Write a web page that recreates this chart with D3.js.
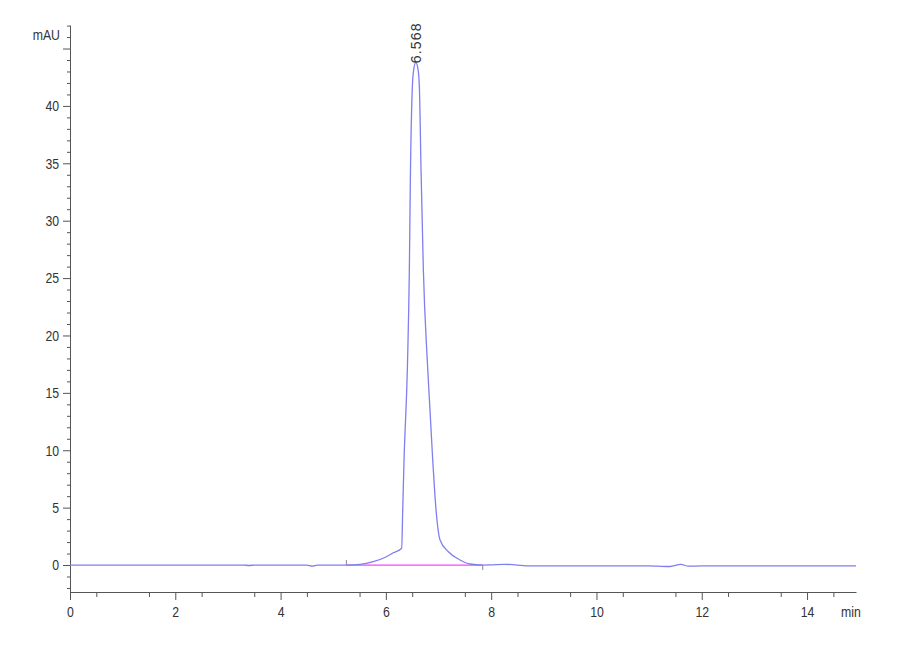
<!DOCTYPE html>
<html>
<head>
<meta charset="utf-8">
<script src="https://cdn.jsdelivr.net/npm/d3@7"></script>
<style>
    body { margin: 0; background: #fff; }
    .axis text, .label { font-family: "Liberation Sans", Arial, sans-serif; font-size: 15px; fill: #333; }
    .axis path, .axis line { stroke: #555; }
    /* the instrument font is a narrow one */
    .x-axis text { transform-box: fill-box; transform-origin: center; transform: scaleX(0.82); }
    .y-axis text, .label { transform-box: fill-box; transform-origin: right center; transform: scaleX(0.82); }
    .label.left { transform-origin: left center; }
</style>
</head>
<body>
<div id="chart"></div>
<script>
// chromatogram trace (retention time in min, signal in mAU)
const time = [0, 1, 2, 3, 3.3, 3.4, 3.5, 4.5, 4.6, 4.7, 5.0, 5.25, 5.51, 5.76, 6.0, 6.14, 6.3,
    6.32, 6.345, 6.41, 6.446, 6.465, 6.503, 6.53, 6.568, 6.61, 6.636, 6.668, 6.712, 6.791, 6.89,
    6.953, 7.029, 7.187, 7.409, 7.599, 7.84, 8.0, 8.25, 8.45, 8.74, 9, 10, 11, 11.15, 11.4,
    11.6, 11.75, 12, 13, 14, 14.93];
const signal = [0, 0, 0, 0, 0, -0.04, 0, 0, -0.09, 0, 0, 0, 0.06, 0.29, 0.7, 1.07, 1.46,
    4.79, 9.15, 17.4, 25.7, 33.55, 41.68, 43.2, 43.8, 43.2, 41.68, 34.4, 25.7, 17.4, 9.15,
    4.79, 2.18, 1.16, 0.44, 0.09, 0, 0.02, 0.06, 0.02, -0.08, -0.08, -0.08, -0.08, -0.1, -0.13,
    0.06, -0.1, -0.08, -0.08, -0.08, -0.08];

const peakTime = 6.568;
const peakHeight = 43.8;
const peakLabel = "6.568";
const baselineStart = 5.25;
const baselineEnd = 7.84;

const xMajor = [0, 2, 4, 6, 8, 10, 12, 14];
const yMajor = [0, 5, 10, 15, 20, 25, 30, 35, 40, 45];
const yLabels = ["0", "5", "10", "15", "20", "25", "30", "35", "40", ""];

const width = 900;
const height = 660;

const svg = d3.select("#chart")
    .append("svg")
    .attr("width", width)
    .attr("height", height);

const xScale = d3.scaleLinear()
    .domain([0, 14.93])
    .range([70, 856]);

const yScale = d3.scaleLinear()
    .domain([-2.35, 47.05])
    .range([592, 25]);

// minor ticks every 0.5 min / 1 mAU
const xMinor = d3.range(0.5, 14.93, 1);
const yMinor = d3.range(-2, 48, 1).filter(v => v % 5 !== 0);

svg.append("g")
    .attr("class", "axis")
    .attr("transform", "translate(0,592)")
    .call(d3.axisBottom(xScale).tickValues(xMinor).tickSize(5).tickFormat(""))
    .call(g => g.select(".domain").remove());

svg.append("g")
    .attr("class", "axis x-axis")
    .attr("transform", "translate(0,592)")
    .call(d3.axisBottom(xScale).tickValues(xMajor).tickSize(8).tickSizeOuter(0).tickPadding(6).tickFormat(d3.format("d")));

svg.append("g")
    .attr("class", "axis")
    .attr("transform", "translate(70,0)")
    .call(d3.axisLeft(yScale).tickValues(yMinor).tickSize(3).tickFormat(""))
    .call(g => g.select(".domain").remove());

svg.append("g")
    .attr("class", "axis y-axis")
    .attr("transform", "translate(70,0)")
    .call(d3.axisLeft(yScale).tickValues(yMajor).tickSize(7).tickSizeOuter(0).tickPadding(4)
        .tickFormat((d, i) => yLabels[i]));

svg.append("text")
    .attr("class", "label")
    .attr("x", 60)
    .attr("y", 40)
    .attr("text-anchor", "end")
    .text("mAU");

svg.append("text")
    .attr("class", "label left")
    .attr("x", 841)
    .attr("y", 617)
    .text("min");

// integration baseline
svg.append("line")
    .attr("x1", xScale(baselineStart))
    .attr("x2", xScale(baselineEnd))
    .attr("y1", yScale(0))
    .attr("y2", yScale(0))
    .attr("stroke", "#ff40ff")
    .attr("stroke-width", 1.2);

svg.append("line")
    .attr("x1", xScale(baselineStart))
    .attr("x2", xScale(baselineStart))
    .attr("y1", yScale(0))
    .attr("y2", yScale(0) - 5)
    .attr("stroke", "#888");

svg.append("line")
    .attr("x1", xScale(baselineEnd))
    .attr("x2", xScale(baselineEnd))
    .attr("y1", yScale(0))
    .attr("y2", yScale(0) + 5)
    .attr("stroke", "#888");

const data = time.map((t, i) => ({ t: t, v: signal[i] }));

const line = d3.line()
    .x(d => xScale(d.t))
    .y(d => yScale(d.v))
    .curve(d3.curveMonotoneX);

svg.append("path")
    .datum(data)
    .attr("d", line)
    .attr("fill", "none")
    .attr("stroke", "#7f7ff0")
    .attr("stroke-width", 1.3);

// retention time label
svg.append("text")
    .attr("transform", "translate(" + xScale(peakTime) + "," + (yScale(peakHeight) + 1) + ") rotate(-90)")
    .attr("dy", "0.35em")
    .style("font-family", "'Liberation Sans', Arial, sans-serif")
    .style("font-size", "14px")
    .style("letter-spacing", "1.2px")
    .style("fill", "#333")
    .text(peakLabel);
</script>
</body>
</html>
